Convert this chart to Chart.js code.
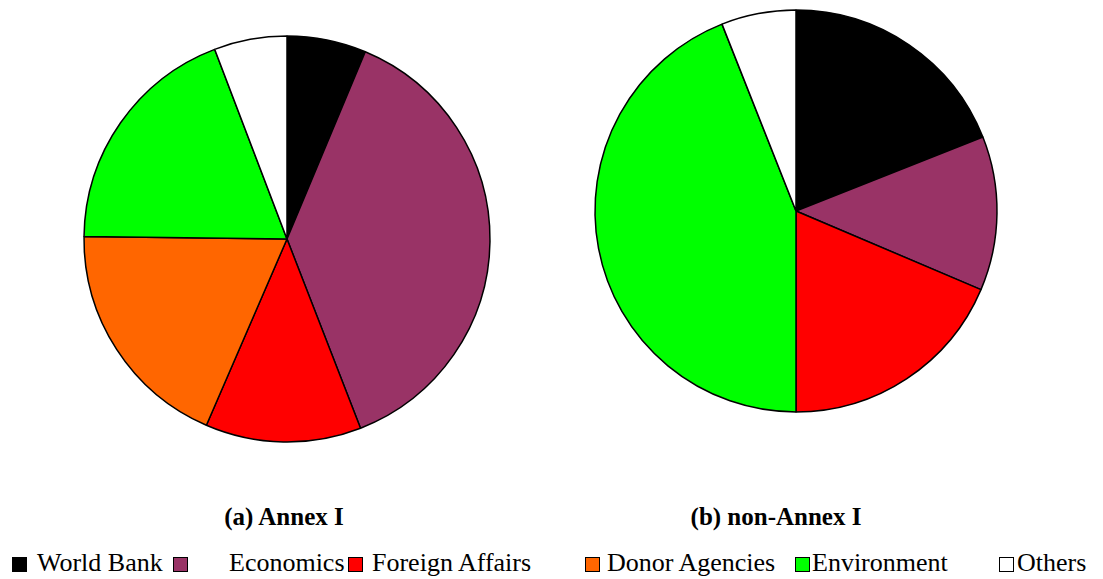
<!DOCTYPE html>
<html>
<head>
<meta charset="utf-8">
<script src="https://cdn.jsdelivr.net/npm/chart.js@4/dist/chart.umd.min.js"></script>
<style>
  html, body { margin: 0; padding: 0; background: #fff; }
  #wrap { position: relative; width: 1103px; height: 579px; overflow: hidden; font-family: "Liberation Serif", "DejaVu Serif", serif; }
  .pie { position: absolute; width: 420px; height: 420px; }
  .title { position: absolute; top: 503px; font-weight: bold; font-size: 25px; transform: translateX(-50%); white-space: nowrap; }
  .leg { position: absolute; top: 548px; font-size: 26px; white-space: nowrap; color: #000; }
  .leg .sw { position: absolute; top: 9px; width: 15px; height: 15px; border: 1px solid #000; box-sizing: border-box; }
  .leg span.t { position: absolute; top: 0; }
</style>
</head>
<body>
<div id="wrap">
  <div class="pie" style="left:77px; top:29px;"><canvas id="pieA" width="420" height="420"></canvas></div>
  <div class="pie" style="left:586px; top:1px;"><canvas id="pieB" width="420" height="420"></canvas></div>
  <div class="title" style="left:284px;">(a) Annex I</div>
  <div class="title" style="left:776px;">(b) non-Annex I</div>
  <div id="legend"></div>
</div>
<script>
// categories and shares (%)
const categories = ["World Bank", "Economics", "Foreign Affairs", "Donor Agencies", "Environment", "Others"];
const annexI = [6.3, 37.8, 12.4, 18.7, 19.0, 5.8];
const nonAnnexI = [19.0, 12.4, 18.6, 0, 44.0, 6.0];
const colors = ["#000000", "#993366", "#ff0000", "#ff6600", "#00ff00", "#ffffff"];

// legend layout (swatch x, text x)
const legendPos = [[12, 37], [173, 229], [348, 372], [585, 607], [795, 812], [999, 1017]];

function makePie(id, values, radius) {
  new Chart(document.getElementById(id), {
    type: 'pie',
    data: {
      labels: categories,
      datasets: [{
        data: values,
        backgroundColor: colors,
        borderColor: "#000",
        borderWidth: 1.5
      }]
    },
    options: {
      responsive: false,
      animation: false,
      radius: radius,
      layout: { padding: 0 },
      plugins: {
        legend: { display: false },
        tooltip: { enabled: false }
      }
    }
  });
}

makePie('pieA', annexI, 203);
makePie('pieB', nonAnnexI, 201);

const legend = document.getElementById('legend');
categories.forEach((c, i) => {
  const d = document.createElement('div');
  d.className = 'leg';
  d.style.left = '0px';
  d.innerHTML = `<div class="sw" style="left:${legendPos[i][0]}px;background:${colors[i]}"></div>` +
    `<span class="t" style="left:${legendPos[i][1]}px">${c}</span>`;
  legend.appendChild(d);
});
</script>
</body>
</html>
